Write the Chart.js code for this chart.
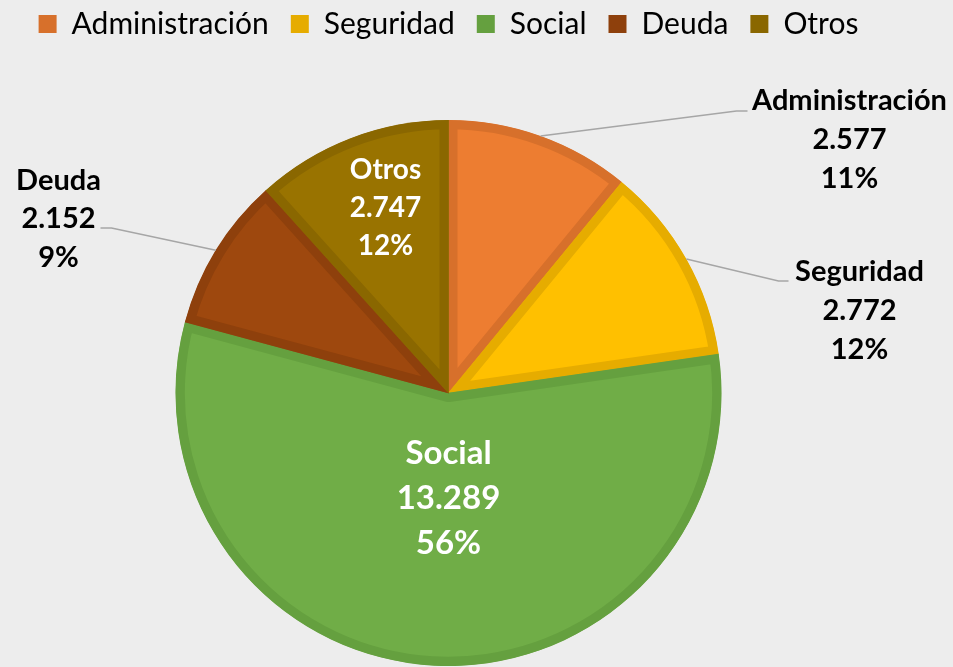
<!DOCTYPE html>
<html>
<head>
<meta charset="utf-8">
<script src="https://cdn.jsdelivr.net/npm/chart.js@4.4.0/dist/chart.umd.min.js"></script>
<style>
    html, body { margin: 0; padding: 0; background: #ededed; }
</style>
</head>
<body>
<canvas id="chartContainer" width="953" height="667"></canvas>
<script>
// data
const categories = ['Administración', 'Seguridad', 'Social', 'Deuda', 'Otros'];
const values = [2577, 2772, 13289, 2152, 2747];

// office palette, slice fill + darker rim
const fillColors = ['#ED7D31', '#FFC000', '#70AD47', '#9E480E', '#997300'];
const edgeColors = ['#D7702B', '#E6AC00', '#65A03F', '#8E400C', '#8A6700'];

// where each data label sits, relative to the pie centre (middle text line)
const labelSpots = [
    { dx: 401, dy: -253, size: 29, gap: 39, color: '#000', leader: [[288, -282], [299, -282]] },
    { dx: 411, dy: -82, size: 29, gap: 39, color: '#000', leader: [[330, -112], [340, -112]] },
    { dx: 0, dy: 105, size: 33, gap: 45, color: '#fff', leader: null },
    { dx: -390, dy: -174, size: 29, gap: 38.5, color: '#000', leader: [[-337, -165], [-348, -165]] },
    { dx: -63, dy: -185, size: 28, gap: 38, color: '#fff', leader: null }
];

function fmtThousands(v) {
    return String(v).replace(/\B(?=(\d{3})+(?!\d))/g, '.');
}

// make the legend box taller so the pie gets pushed down
const legendSpacer = {
    id: 'legendSpacer',
    beforeInit(chart) {
        const origFit = chart.legend.fit;
        chart.legend.fit = function () {
            origFit.call(this);
            this.height = 132;
        };
    }
};

// data labels + leader lines
const pieLabels = {
    id: 'pieLabels',
    afterDatasetsDraw(chart) {
        const ctx = chart.ctx;
        const meta = chart.getDatasetMeta(0);
        const total = values.reduce((a, b) => a + b, 0);

        meta.data.forEach(function (arc, i) {
            const p = arc.getProps(['x', 'y', 'startAngle', 'endAngle', 'outerRadius'], true);
            const spot = labelSpots[i];
            const mid = (p.startAngle + p.endAngle) / 2;

            if (spot.leader) {
                ctx.save();
                ctx.strokeStyle = '#a6a6a6';
                ctx.lineWidth = 1.5;
                ctx.beginPath();
                ctx.moveTo(p.x + Math.cos(mid) * p.outerRadius, p.y + Math.sin(mid) * p.outerRadius);
                spot.leader.forEach(function (pt) {
                    ctx.lineTo(p.x + pt[0], p.y + pt[1]);
                });
                ctx.stroke();
                ctx.restore();
            }

            const lines = [
                categories[i],
                fmtThousands(values[i]),
                Math.round(values[i] / total * 100) + '%'
            ];
            ctx.save();
            ctx.font = 'bold ' + spot.size + 'px Lato';
            ctx.fillStyle = spot.color;
            ctx.textAlign = 'center';
            ctx.textBaseline = 'middle';
            lines.forEach(function (txt, k) {
                ctx.fillText(txt, p.x + spot.dx, p.y + spot.dy + (k - 1) * spot.gap);
            });
            ctx.restore();
        });
    }
};

var ctx = document.getElementById('chartContainer').getContext('2d');

window.myPieChart = new Chart(ctx, {
    type: 'pie',
    data: {
        labels: categories,
        datasets: [{
            data: values,
            backgroundColor: fillColors,
            borderColor: edgeColors,
            borderWidth: 9,
            borderAlign: 'inner'
        }]
    },
    plugins: [legendSpacer, pieLabels],
    options: {
        responsive: false,
        animation: false,
        radius: 273,
        layout: {
            padding: { top: -13, right: 56, left: 0, bottom: 0 }
        },
        plugins: {
            tooltip: { enabled: false },
            legend: {
                display: true,
                position: 'top',
                labels: {
                    boxWidth: 18,
                    boxHeight: 18,
                    padding: 22,
                    color: '#000',
                    font: { family: 'Lato', size: 30 },
                    generateLabels: function (chart) {
                        const items = Chart.overrides.pie.plugins.legend.labels.generateLabels(chart);
                        items.forEach(function (it, i) {
                            it.fillStyle = edgeColors[i];
                            it.strokeStyle = edgeColors[i];
                            it.lineWidth = 0;
                        });
                        return items;
                    }
                }
            }
        }
    }
});
</script>
</body>
</html>
